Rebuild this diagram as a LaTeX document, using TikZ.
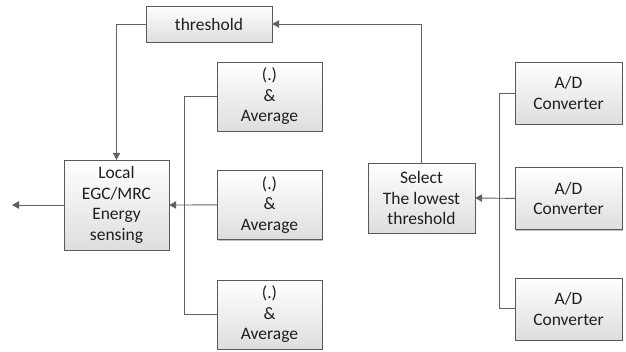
\documentclass[tikz,border=0pt]{standalone}
\usepackage{fontspec}
\setmainfont{Carlito}
\usetikzlibrary{positioning, shadows, arrows.meta}

\tikzset{
  block/.style={rectangle, draw=black!65, top color=white, bottom color=black!13,
    drop shadow={shadow xshift=1.3pt, shadow yshift=-1.3pt, opacity=0.25, fill=black},
    align=center, text=black!88, font=\fontsize{17.5}{20.5}\selectfont, inner sep=2pt},
  avgbox/.style={block, minimum width=105pt, minimum height=69pt},
  adcbox/.style={block, minimum width=107pt, minimum height=62pt},
  line/.style={draw=black!62, line width=0.9pt},
  arr/.style={line, -{Triangle[length=7pt, width=7.5pt]}}
}

\begin{document}
\begin{tikzpicture}[x=1pt, y=-1pt]
  \useasboundingbox (0,0) rectangle (626,352);

  % Soglia
  \node[block, minimum width=126pt, minimum height=36pt] (thr) at (209,24) {threshold};

  % Blocchi di media
  \node[avgbox] (avg1) at (269.5,96.5) {(.)\\\&\\Average};
  \node[avgbox, below=39pt of avg1] (avg2) {(.)\\\&\\Average};
  \node[avgbox, below=40pt of avg2] (avg3) {(.)\\\&\\Average};

  % Rilevamento di energia
  \node[block, minimum width=105pt, minimum height=90pt] (local) at (116.5,205) {Local\\EGC/MRC\\Energy\\sensing};

  % Selezione
  \node[block, minimum width=107pt, minimum height=70pt] (sel) at (421.5,198) {Select\\The lowest\\threshold};

  % Convertitori A/D
  \node[adcbox] (ad1) at (568.5,93) {A/D\\Converter};
  \node[adcbox, below=43pt of ad1] (ad2) {A/D\\Converter};
  \node[adcbox, below=48pt of ad2] (ad3) {A/D\\Converter};

  % Punti di giunzione
  \coordinate[left=32pt of avg2.west] (javg);
  \coordinate[left=15pt of ad2.west] (jad);
  \coordinate (out) at (12,205);

  % Connessioni
  \draw[line] (avg1.west) -| (javg);
  \draw[line] (avg3.west) -| (javg);
  \draw[arr] (avg2.west) -- (local.east);
  \draw[line] (ad1.west) -| (jad);
  \draw[line] (ad3.west) -| (jad);
  \draw[arr] (ad2.west) -- (sel.east);
  \draw[arr] (sel.north) |- (thr.east);
  \draw[arr] (thr.west) -| (local.north);
  \draw[arr] (local.west) -- (out);
\end{tikzpicture}
\end{document}
